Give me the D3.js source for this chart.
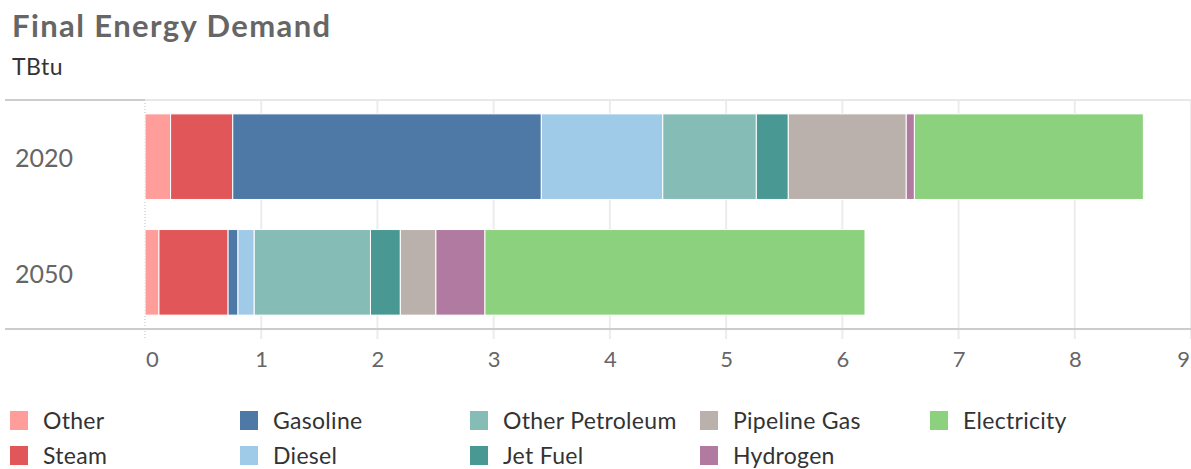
<!DOCTYPE html>
<html>
<head>
<meta charset="utf-8">
<script src="https://cdn.jsdelivr.net/npm/d3@7"></script>
<style>
  body { margin: 0; background: #fff; }
  text { font-family: Lato, "Open Sans", sans-serif; }
</style>
</head>
<body>
<div id="chart"></div>
<script>
// data
var years = ["2020", "2050"];
var fuels = ["Other", "Steam", "Gasoline", "Diesel", "Other Petroleum", "Jet Fuel", "Pipeline Gas", "Hydrogen", "Electricity"];
var colors = ["#FF9D9A", "#E15759", "#4E79A7", "#A0CBE8", "#86BCB6", "#499894", "#BAB0AC", "#B07AA1", "#8CD17D"];
var values2020 = [0.22, 0.535, 2.655, 1.045, 0.805, 0.275, 1.015, 0.07, 1.97];
var values2050 = [0.12, 0.595, 0.085, 0.14, 1.0, 0.257, 0.306, 0.422, 3.27];
var xTicks = [0, 1, 2, 3, 4, 5, 6, 7, 8, 9];
// legend order, column by column
var legendOrder = ["Other", "Steam", "Gasoline", "Diesel", "Other Petroleum", "Jet Fuel", "Pipeline Gas", "Hydrogen", "Electricity"];

var width = 1191, height = 469;
var margin = {top: 100, right: 0, bottom: 140, left: 145};
var axisY = 329;

var svg = d3.select("#chart").append("svg")
    .attr("width", width)
    .attr("height", height);

// title
svg.append("text")
    .attr("x", 12).attr("y", 37)
    .style("font-size", "31px")
    .style("font-weight", "bold")
    .style("letter-spacing", "1.4px")
    .style("fill", "#666")
    .text("Final Energy Demand");
svg.append("text")
    .attr("x", 12).attr("y", 75)
    .style("font-size", "23px")
    .style("letter-spacing", "0.5px")
    .style("fill", "#333")
    .text("TBtu");

var x = d3.scaleLinear()
    .domain([0, 9])
    .range([margin.left, width - margin.right]);
var y = d3.scaleBand()
    .domain(years)
    .range([margin.top, axisY])
    .paddingInner(0.26)
    .paddingOuter(0.12);

// grid
svg.append("g").selectAll("line")
    .data(xTicks.filter(function(d){ return d > 0; }))
    .enter().append("line")
    .attr("x1", function(d){ return x(d); })
    .attr("x2", function(d){ return x(d); })
    .attr("y1", margin.top)
    .attr("y2", axisY + 10)
    .attr("stroke", "#ececec")
    .attr("stroke-width", 2);
svg.append("line")
    .attr("x1", x(0)).attr("x2", x(0))
    .attr("y1", margin.top).attr("y2", axisY + 10)
    .attr("stroke", "#bbb")
    .attr("stroke-dasharray", "1,2");

// top border lines
svg.append("line")
    .attr("x1", 5).attr("x2", x(0))
    .attr("y1", margin.top).attr("y2", margin.top)
    .attr("stroke", "#ccc").attr("stroke-width", 2);
svg.append("line")
    .attr("x1", x(0)).attr("x2", width)
    .attr("y1", margin.top).attr("y2", margin.top)
    .attr("stroke", "#e8e8e8").attr("stroke-width", 2);

// stacked data
var rows = years.map(function(yr, i){
    var vals = i === 0 ? values2020 : values2050;
    var r = {year: yr};
    fuels.forEach(function(f, j){ r[f] = vals[j]; });
    return r;
});
var stack = d3.stack().keys(fuels)(rows);
var color = d3.scaleOrdinal().domain(fuels).range(colors);

svg.append("g").selectAll("g")
    .data(stack)
    .enter().append("g")
    .attr("fill", function(d){ return color(d.key); })
    .selectAll("rect")
    .data(function(d){ return d; })
    .enter().append("rect")
    .attr("x", function(d){ return x(d[0]); })
    .attr("width", function(d){ return x(d[1]) - x(d[0]); })
    .attr("y", function(d){ return y(d.data.year); })
    .attr("height", y.bandwidth())
    .attr("stroke", "#fff")
    .attr("stroke-width", 1);

// axis line
svg.append("line")
    .attr("x1", 5).attr("x2", width)
    .attr("y1", axisY).attr("y2", axisY)
    .attr("stroke", "#ccc").attr("stroke-width", 2);

// x tick labels
var xAxis = svg.append("g")
    .attr("transform", "translate(0," + axisY + ")")
    .call(d3.axisBottom(x).tickValues(xTicks).tickSize(0).tickPadding(22));
xAxis.select(".domain").remove();
xAxis.selectAll("text")
    .style("font-size", "22px")
    .style("fill", "#666")
    .attr("dx", function(d){ return d === 0 ? 7 : (d === 9 ? -8 : 0); });

// y labels
var yAxis = svg.append("g")
    .attr("transform", "translate(15,0)")
    .call(d3.axisLeft(y).tickSize(0).tickPadding(0));
yAxis.select(".domain").remove();
yAxis.selectAll("text")
    .attr("text-anchor", "start")
    .attr("dy", "0.42em")
    .style("font-size", "25px")
    .style("fill", "#666");

// legend
var legend = svg.append("g").selectAll("g")
    .data(legendOrder)
    .enter().append("g")
    .attr("transform", function(d, i){
        var col = Math.floor(i / 2), row = i % 2;
        return "translate(" + (10 + col * 230) + "," + (421 + row * 35) + ")";
    });
legend.append("rect")
    .attr("x", 0).attr("y", -10)
    .attr("width", 18).attr("height", 19)
    .attr("fill", function(d){ return color(d); });
legend.append("text")
    .attr("x", 33).attr("y", 0)
    .attr("dy", "0.36em")
    .style("font-size", "23px")
    .style("letter-spacing", "0.3px")
    .style("fill", "#333")
    .text(function(d){ return d; });
</script>
</body>
</html>
